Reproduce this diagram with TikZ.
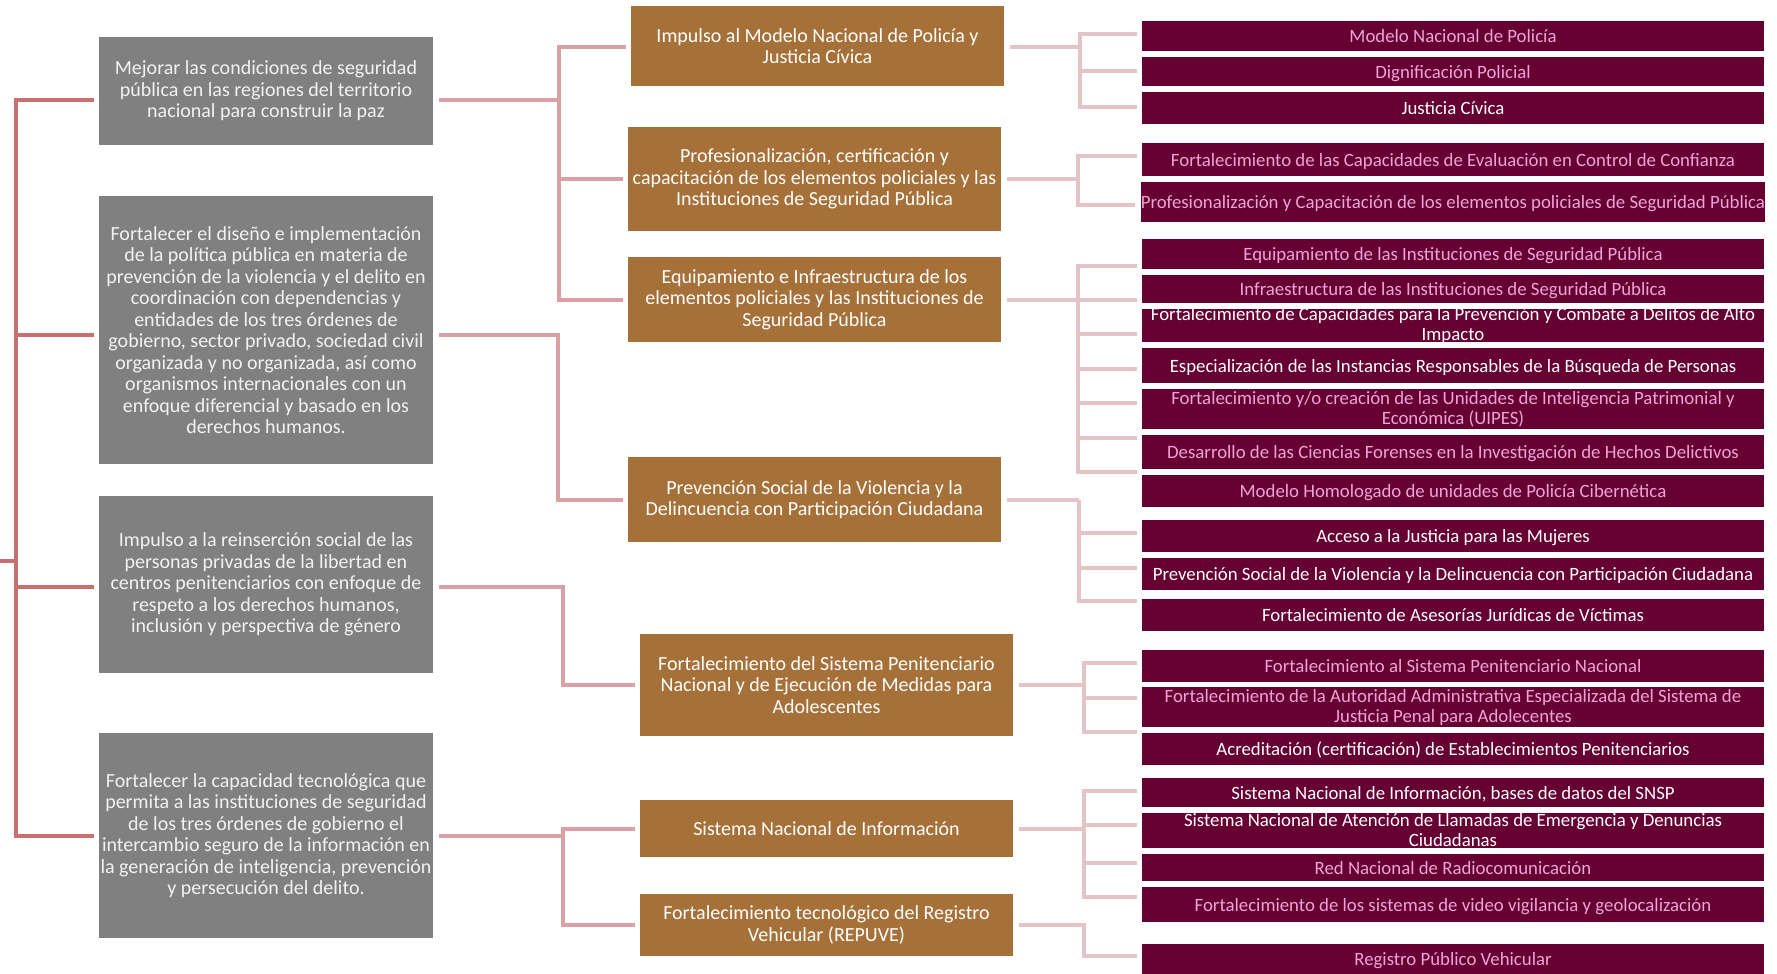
\documentclass[tikz,border=0pt]{standalone}
\usepackage{fontspec}
\setmainfont{Carlito}

\definecolor{goalgray}{HTML}{808080}
\definecolor{actbrown}{HTML}{A67039}
\definecolor{progwine}{HTML}{660033}
\definecolor{textpink}{HTML}{F0A3D6}
\definecolor{linkmain}{HTML}{C87070}
\definecolor{linkmid}{HTML}{D9A1A4}
\definecolor{linksub}{HTML}{E4C4C7}

\tikzset{
  goal/.style={fill=goalgray, text=white!95!black, align=center, minimum width=334pt,
    inner sep=0pt, outer xsep=5.5pt, outer ysep=0pt, font=\fontsize{20}{21.5}\selectfont},
  action/.style={fill=actbrown, text=white, align=center, minimum width=373pt,
    inner sep=0pt, outer xsep=5.5pt, outer ysep=0pt, font=\fontsize{20}{21.5}\selectfont},
  prog/.style={fill=progwine, text=white, minimum width=622pt, inner sep=0pt,
    outer xsep=5.5pt, outer ysep=0pt, text height=15pt, text depth=2pt,
    font=\fontsize{18.8}{20}\selectfont},
  progpink/.style={prog, text=textpink},
  proglabel/.style={align=center, inner sep=0pt, font=\fontsize{18.8}{20}\selectfont},
  mainlink/.style={draw=linkmain, line width=4pt},
  midlink/.style={draw=linkmid, line width=4pt},
  sublink/.style={draw=linksub, line width=4pt}
}

\begin{document}
\begin{tikzpicture}[x=1pt,y=-1pt]
    \path[use as bounding box, fill=white] (0,0) rectangle (1777,974);

    \node[goal, minimum height=108pt] (g1) at (266,91) {Mejorar las condiciones de seguridad\\pública en las regiones del territorio\\nacional para construir la paz};
    \node[goal, minimum height=268pt] (g2) at (266,330) {Fortalecer el diseño e implementación\\de la política pública en materia de\\prevención de la violencia y el delito en\\coordinación con dependencias y\\entidades de los tres órdenes de\\gobierno, sector privado, sociedad civil\\organizada y no organizada, así como\\organismos internacionales con un\\enfoque diferencial y basado en los\\derechos humanos.};
    \node[goal, minimum height=177pt] (g3) at (266,584.5) {Impulso a la reinserción social de las\\personas privadas de la libertad en\\centros penitenciarios con enfoque de\\respeto a los derechos humanos,\\inclusión y perspectiva de género};
    \node[goal, minimum height=205pt] (g4) at (266,835.5) {Fortalecer la capacidad tecnológica que\\permita a las instituciones de seguridad\\de los tres órdenes de gobierno el\\intercambio seguro de la información en\\la generación de inteligencia, prevención\\y persecución del delito.};

    \node[action, minimum height=80pt] (b1) at (817.5,46) {Impulso al Modelo Nacional de Policía y\\Justicia Cívica};
    \node[action, minimum height=104pt] (b2) at (814.5,179) {Profesionalización, certificación y\\capacitación de los elementos policiales y las\\Instituciones de Seguridad Pública};
    \node[action, minimum height=85pt] (b3) at (814.5,299.5) {Equipamiento e Infraestructura de los\\elementos policiales y las Instituciones de\\Seguridad Pública};
    \node[action, minimum height=85pt] (b4) at (814.5,499.5) {Prevención Social de la Violencia y la\\Delincuencia con Participación Ciudadana};
    \node[action, minimum height=102pt] (b5) at (826.5,685) {Fortalecimiento del Sistema Penitenciario\\Nacional y de Ejecución de Medidas para\\Adolescentes};
    \node[action, minimum height=57pt] (b6) at (826.5,828.5) {Sistema Nacional de Información};
    \node[action, minimum height=62pt] (b7) at (826.5,925) {Fortalecimiento tecnológico del Registro\\Vehicular (REPUVE)};

    \node[progpink, minimum height=30pt] (m1) at (1453,36) {Modelo Nacional de Policía};
    \node[progpink, minimum height=29pt] (m2) at (1453,71.5) {Dignificación Policial};
    \node[prog, minimum height=32pt] (m3) at (1453,108) {Justicia Cívica};
    \node[progpink, minimum height=33pt] (m4) at (1453,159.5) {Fortalecimiento de las Capacidades de Evaluación en Control de Confianza};
    \node[progpink, minimum height=40pt] (m5) at (1453,202) {Profesionalización y Capacitación de los elementos policiales de Seguridad Pública};
    \node[progpink, minimum height=30pt] (m6) at (1453,254) {Equipamiento de las Instituciones de Seguridad Pública};
    \node[progpink, minimum height=28pt] (m7) at (1453,289) {Infraestructura de las Instituciones de Seguridad Pública};
    \node[prog, minimum height=33pt, label={[proglabel, text=white]center:{Fortalecimiento de Capacidades para la Prevención y Combate a Delitos de Alto\\Impacto}}] (m8) at (1453,325.5) {};
    \node[prog, minimum height=35pt] (m9) at (1453,365.5) {Especialización de las Instancias Responsables de la Búsqueda de Personas};
    \node[prog, minimum height=40pt, label={[proglabel, text=textpink]center:{Fortalecimiento y/o creación de las Unidades de Inteligencia Patrimonial y\\Económica (UIPES)}}] (m10) at (1453,409) {};
    \node[progpink, minimum height=34pt] (m11) at (1453,452) {Desarrollo de las Ciencias Forenses en la Investigación de Hechos Delictivos};
    \node[progpink, minimum height=32pt] (m12) at (1453,491) {Modelo Homologado de unidades de Policía Cibernética};
    \node[prog, minimum height=32pt] (m13) at (1453,536) {Acceso a la Justicia para las Mujeres};
    \node[prog, minimum height=32pt] (m14) at (1453,574) {Prevención Social de la Violencia y la Delincuencia con Participación Ciudadana};
    \node[prog, minimum height=32pt] (m15) at (1453,615) {Fortalecimiento de Asesorías Jurídicas de Víctimas};
    \node[progpink, minimum height=32pt] (m16) at (1453,666) {Fortalecimiento al Sistema Penitenciario Nacional};
    \node[prog, minimum height=40pt, label={[proglabel, text=textpink]center:{Fortalecimiento de la Autoridad Administrativa Especializada del Sistema de\\Justicia Penal para Adolecentes}}] (m17) at (1453,707) {};
    \node[prog, minimum height=32pt] (m18) at (1453,749) {Acreditación (certificación) de Establecimientos Penitenciarios};
    \node[prog, minimum height=29pt] (m19) at (1453,792.5) {Sistema Nacional de Información, bases de datos del SNSP};
    \node[prog, minimum height=35pt, label={[proglabel, text=white]center:{Sistema Nacional de Atención de Llamadas de Emergencia y Denuncias\\Ciudadanas}}] (m20) at (1453,830.5) {};
    \node[progpink, minimum height=27pt] (m21) at (1453,867.5) {Red Nacional de Radiocomunicación};
    \node[progpink, minimum height=35pt] (m22) at (1453,904.5) {Fortalecimiento de los sistemas de video vigilancia y geolocalización};
    \node[progpink, minimum height=30pt] (m23) at (1453,959) {Registro Público Vehicular};

    \coordinate (root) at (0,561);
    \coordinate (k0) at (16,561);
    \draw[mainlink] (root) -- (k0);
    \foreach \g/\dy in {g1/-8.5pt, g2/-5pt, g3/-2.5pt, g4/0pt}
        \draw[mainlink] ([yshift=\dy]\g.west) -| (k0);

    \coordinate (j1) at (559,99.5);
    \draw[midlink] ([yshift=-8.5pt]g1.east) -- (j1);
    \foreach \b/\dy in {b1/-1pt, b2/0pt, b3/0pt}
        \draw[midlink] ([yshift=\dy]\b.west) -| (j1);
    \coordinate (j2) at (558,335);
    \draw[midlink] ([yshift=-5pt]g2.east) -- (j2) |- (b4.west);
    \coordinate (j3) at (563,587);
    \draw[midlink] ([yshift=-2.5pt]g3.east) -- (j3) |- (b5.west);
    \coordinate (j4) at (563,835.5);
    \draw[midlink] (g4.east) -- (j4);
    \foreach \b in {b6,b7}
        \draw[midlink] (\b.west) -| (j4);

    \coordinate (k1) at (1080,47);
    \draw[sublink] ([yshift=-1pt]b1.east) -- (k1);
    \foreach \m/\dy in {m1/2pt, m2/0pt, m3/1pt}
        \draw[sublink] ([yshift=\dy]\m.west) -| (k1);
    \coordinate (k2) at (1078,179);
    \draw[sublink] (b2.east) -- (k2);
    \foreach \m/\dy in {m4/3.5pt, m5/-3pt}
        \draw[sublink] ([yshift=\dy]\m.west) -| (k2);
    \coordinate (k3) at (1078,299.5);
    \draw[sublink] (b3.east) -- (k3);
    \foreach \m/\dy in {m6/-12pt, m7/-11pt, m8/-8.5pt, m9/-3.5pt, m10/6pt, m11/14pt, m12/19pt}
        \draw[sublink] ([yshift=\dy]\m.west) -| (k3);
    \coordinate (k4) at (1079,499.5);
    \draw[sublink] (b4.east) -- (k4);
    \foreach \m/\dy in {m13/3pt, m14/6pt, m15/14pt}
        \draw[sublink] ([yshift=\dy]\m.west) -| (k4);
    \coordinate (k5) at (1084,685);
    \draw[sublink] (b5.east) -- (k5);
    \foreach \m/\dy in {m16/3pt, m17/9pt, m18/17pt}
        \draw[sublink] ([yshift=\dy]\m.west) -| (k5);
    \coordinate (k6) at (1084,828.5);
    \draw[sublink] (b6.east) -- (k6);
    \foreach \m/\dy in {m19/1.5pt, m20/5.5pt, m21/4.5pt, m22/7.5pt}
        \draw[sublink] ([yshift=\dy]\m.west) -| (k6);
    \coordinate (k7) at (1084,925);
    \draw[sublink] (b7.east) -- (k7) |- ([yshift=3pt]m23.west);
\end{tikzpicture}
\end{document}
